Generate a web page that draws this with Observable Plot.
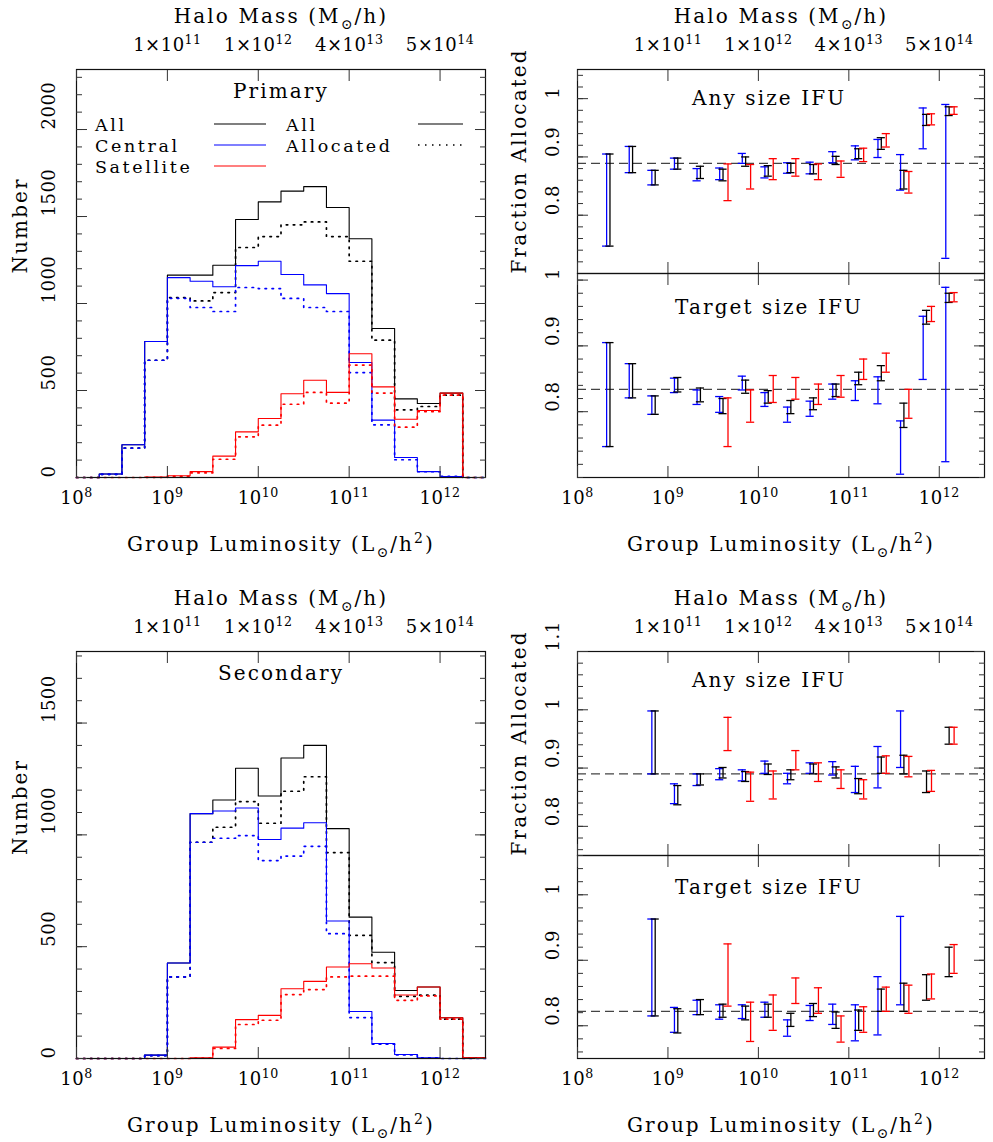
<!DOCTYPE html>
<html>
<head>
<meta charset="utf-8">
<script src="https://cdn.jsdelivr.net/npm/d3@7"></script>
<script src="https://cdn.jsdelivr.net/npm/@observablehq/plot@0.6"></script>
<style>
  html, body { margin: 0; padding: 0; background: #fff; }
  #root { position: relative; width: 993px; height: 1142px; overflow: hidden; background: #fff; font-family: "DejaVu Serif", serif; }
  #root svg { position: absolute; overflow: visible; background: transparent; max-width: none; }
  #root text { letter-spacing: 0.5px; }
  #root text.big { letter-spacing: 2.1px; }
</style>
</head>
<body>
<div id="root"></div>
<script>
// ================= DATA =================
// log10 group-luminosity bin edges (0.25 dex)
const binEdges = [8, 8.25, 8.5, 8.75, 9, 9.25, 9.5, 9.75, 10, 10.25, 10.5, 10.75, 11, 11.25, 11.5, 11.75, 12, 12.25, 12.5];

// Primary sample histograms (counts per bin)
const primaryAll                = [0, 20, 188, 782, 1163, 1163, 1220, 1483, 1584, 1646, 1672, 1552, 1372, 856, 452, 425, 485, 0];
const primaryCentral            = [0, 20, 188, 782, 1149, 1128, 1096, 1218, 1243, 1167, 1107, 1057, 661, 330, 115, 34, 6, 0];
const primarySatellite          = [0, 0, 0, 2, 10, 34, 123, 262, 339, 481, 559, 489, 711, 521, 335, 385, 485, 0];
const primaryAllAllocated       = [0, 18, 169, 674, 1034, 1015, 1063, 1322, 1385, 1452, 1469, 1385, 1243, 789, 389, 408, 473, 0];
const primaryCentralAllocated   = [0, 18, 169, 674, 1030, 977, 954, 1092, 1086, 1029, 977, 954, 603, 303, 102, 33, 6, 0];
const primarySatelliteAllocated = [0, 0, 0, 1, 6, 27, 105, 234, 301, 421, 489, 427, 646, 485, 289, 379, 473, 0];

// Secondary sample histograms
const secondaryAll                = [0, 0, 0, 15, 427, 1095, 1156, 1298, 1174, 1344, 1400, 1028, 632, 475, 304, 320, 182, 3];
const secondaryCentral            = [0, 0, 0, 15, 427, 1095, 1107, 1120, 979, 1030, 1054, 615, 210, 67, 18, 3, 0, 0];
const secondarySatellite          = [0, 0, 0, 0, 0, 3, 51, 174, 193, 312, 345, 409, 424, 405, 284, 320, 182, 3];
const secondaryAllAllocated       = [0, 0, 0, 13, 365, 967, 1034, 1149, 1052, 1195, 1260, 921, 551, 429, 278, 283, 176, 3];
const secondaryCentralAllocated   = [0, 0, 0, 13, 365, 967, 985, 997, 885, 905, 949, 558, 183, 64, 16, 3, 0, 0];
const secondarySatelliteAllocated = [0, 0, 0, 0, 0, 2, 45, 152, 171, 286, 308, 365, 368, 368, 260, 280, 176, 3];

// Fraction-allocated error bars: bin centres 8.375 ... 12.125
const errCenters = [8.375, 8.625, 8.875, 9.125, 9.375, 9.625, 9.875, 10.125, 10.375, 10.625, 10.875, 11.125, 11.375, 11.625, 11.875, 12.125];
const seriesShift = {Central: -0.053, All: -0.016, Satellite: 0.039};

// Primary, any size IFU
const anyPrimCentralLo = [0.747, 0.873, 0.852, 0.879, 0.859, 0.861, 0.889, 0.864, 0.872, 0.871, 0.890, 0.895, 0.899, 0.843, 0.914, 0.726];
const anyPrimCentralHi = [0.905, 0.918, 0.877, 0.898, 0.880, 0.881, 0.906, 0.883, 0.890, 0.891, 0.909, 0.919, 0.930, 0.904, 0.984, 0.990];
const anyPrimAllLo     = [0.747, 0.873, 0.852, 0.879, 0.863, 0.859, 0.884, 0.867, 0.873, 0.871, 0.887, 0.897, 0.913, 0.845, 0.954, 0.971];
const anyPrimAllHi     = [0.905, 0.918, 0.877, 0.898, 0.884, 0.879, 0.900, 0.885, 0.889, 0.887, 0.901, 0.914, 0.933, 0.877, 0.973, 0.986];
const anyPrimSatLo     = [null, null, null, null, null, 0.825, 0.845, 0.861, 0.867, 0.861, 0.865, 0.892, 0.917, 0.838, 0.955, 0.973];
const anyPrimSatHi     = [null, null, null, null, null, 0.888, 0.887, 0.897, 0.897, 0.888, 0.893, 0.915, 0.940, 0.875, 0.974, 0.986];
const anyPrimMean = 0.889;

// Primary, target size IFU
const tgtPrimCentralLo = [0.747, 0.821, 0.796, 0.829, 0.811, 0.799, 0.833, 0.808, 0.784, 0.793, 0.819, 0.817, 0.812, 0.705, 0.849, 0.724];
const tgtPrimCentralHi = [0.905, 0.873, 0.824, 0.851, 0.833, 0.823, 0.854, 0.829, 0.807, 0.816, 0.842, 0.847, 0.853, 0.786, 0.945, 0.989];
const tgtPrimAllLo     = [0.747, 0.821, 0.796, 0.830, 0.815, 0.797, 0.828, 0.813, 0.797, 0.803, 0.823, 0.841, 0.847, 0.776, 0.933, 0.966];
const tgtPrimAllHi     = [0.905, 0.873, 0.824, 0.852, 0.836, 0.820, 0.848, 0.832, 0.817, 0.821, 0.842, 0.860, 0.870, 0.813, 0.954, 0.980];
const tgtPrimSatLo     = [null, null, null, null, null, 0.747, 0.784, 0.814, 0.819, 0.811, 0.822, 0.849, 0.860, 0.790, 0.937, 0.967];
const tgtPrimSatHi     = [null, null, null, null, null, 0.821, 0.833, 0.855, 0.852, 0.842, 0.855, 0.880, 0.889, 0.834, 0.960, 0.981];
const tgtPrimMean = 0.834;

// Secondary, any size IFU
const anySecCentralLo = [null, null, 0.890, 0.839, 0.870, 0.880, 0.878, 0.891, 0.873, 0.891, 0.888, 0.858, 0.866, 0.901, null, null];
const anySecCentralHi = [null, null, 0.998, 0.873, 0.890, 0.899, 0.897, 0.912, 0.891, 0.909, 0.911, 0.903, 0.937, 0.998, null, null];
const anySecAllLo     = [null, null, 0.890, 0.837, 0.871, 0.883, 0.877, 0.889, 0.880, 0.890, 0.883, 0.856, 0.891, 0.890, 0.858, 0.941];
const anySecAllHi     = [null, null, 0.998, 0.870, 0.890, 0.901, 0.894, 0.907, 0.897, 0.907, 0.902, 0.882, 0.919, 0.922, 0.895, 0.970];
const anySecSatLo     = [null, null, null, null, null, 0.930, 0.843, 0.847, 0.897, 0.877, 0.865, 0.847, 0.891, 0.885, 0.860, 0.941];
const anySecSatHi     = [null, null, null, null, null, 0.987, 0.893, 0.895, 0.930, 0.909, 0.897, 0.880, 0.921, 0.920, 0.896, 0.970];
const anySecMean = 0.890;

// Secondary, target size IFU
const tgtSecCentralLo = [null, null, 0.815, 0.790, 0.817, 0.810, 0.811, 0.813, 0.784, 0.808, 0.802, 0.777, 0.786, 0.832, null, null];
const tgtSecCentralHi = [null, null, 0.963, 0.828, 0.839, 0.832, 0.832, 0.836, 0.809, 0.831, 0.833, 0.832, 0.875, 0.967, null, null];
const tgtSecAllLo     = [null, null, 0.815, 0.789, 0.817, 0.813, 0.809, 0.813, 0.799, 0.814, 0.796, 0.793, 0.822, 0.822, 0.839, 0.875];
const tgtSecAllHi     = [null, null, 0.963, 0.826, 0.840, 0.833, 0.830, 0.833, 0.819, 0.834, 0.821, 0.824, 0.856, 0.865, 0.878, 0.920];
const tgtSecSatLo     = [null, null, null, null, null, 0.830, 0.776, 0.793, 0.834, 0.819, 0.775, 0.790, 0.822, 0.819, 0.841, 0.880];
const tgtSecSatHi     = [null, null, null, null, null, 0.925, 0.836, 0.847, 0.873, 0.858, 0.815, 0.829, 0.859, 0.862, 0.879, 0.924];
const tgtSecMean = 0.822;

// Tick values and labels
const lumTicks = [8, 9, 10, 11, 12];
const lumTickLabels = ["10^{8}", "10^{9}", "10^{10}", "10^{11}", "10^{12}"];
const massTicks = [9, 10, 11, 12];
const massTickLabels = ["1×10^{11}", "1×10^{12}", "4×10^{13}", "5×10^{14}"];
const primaryCountTicks = [0, 500, 1000, 1500, 2000];
const secondaryCountTicks = [0, 500, 1000, 1500];
const fracTicks = [0.8, 0.9, 1];
const fracTickLabels = ["0.8", "0.9", "1"];
const fracTicksWide = [0.8, 0.9, 1, 1.1];
const fracTickLabelsWide = ["0.8", "0.9", "1", "1.1"];

// ================= DRAWING =================
const root = document.getElementById("root");
const FONT = "DejaVu Serif";
const COLORS = {All: "#000000", Central: "#0000ff", Satellite: "#ff0000"};
const TICK = {stroke: "#333", strokeWidth: 1};
const CAP = 0.045;
const DOTS = {strokeWidth: 1.7, strokeDasharray: "1.5,5.5"};

function richText(svg) {
  svg.querySelectorAll("text").forEach(t => {
    const fsAttr = parseFloat(getComputedStyle(t).fontSize) || 18;
    if (fsAttr >= 19.5) t.classList.add("big");
    const s = t.textContent;
    if (!/[\^_]\{/.test(s)) return;
    const fs = fsAttr;
    t.textContent = "";
    const re = /(\^|_)\{([^}]*)\}/g;
    let last = 0, m, pending = 0;
    const add = (str, dy, small) => {
      const ts = document.createElementNS("http://www.w3.org/2000/svg", "tspan");
      ts.textContent = str;
      if (dy) ts.setAttribute("dy", dy);
      if (small) ts.setAttribute("font-size", fs * 0.7);
      t.appendChild(ts);
    };
    while ((m = re.exec(s))) {
      if (m.index > last) { add(s.slice(last, m.index), pending); pending = 0; }
      const shift = m[1] === "^" ? -0.42 * fs : 0.3 * fs;
      add(m[2], shift + pending, true);
      pending = -shift;
      last = re.lastIndex;
    }
    if (last < s.length) add(s.slice(last), pending);
  });
}

function mount(o, left, top) {
  const svg = Plot.plot({
    width: o.width, height: o.height,
    marginTop: o.mt, marginBottom: o.mb, marginLeft: o.ml, marginRight: o.mr,
    x: {domain: [8, 12.5], axis: null},
    y: {domain: o.yDomain, axis: null},
    style: {fontFamily: FONT, fontSize: "18px", background: "transparent", overflow: "visible", color: "#000"},
    marks: o.marks
  });
  svg.style.position = "absolute";
  svg.style.left = left + "px";
  svg.style.top = top + "px";
  root.appendChild(svg);
  richText(svg);
  return svg;
}

function tickMarks(yMajor, yMinor) {
  const base = {label: null, tickFormat: () => "", ...TICK};
  return [
    Plot.axisY({...base, anchor: "left", ticks: yMajor, tickSize: 11, dx: 11}),
    Plot.axisY({...base, anchor: "left", ticks: yMinor, tickSize: 6, dx: 6}),
    Plot.axisY({...base, anchor: "right", ticks: yMajor, tickSize: 11, dx: -11}),
    Plot.axisY({...base, anchor: "right", ticks: yMinor, tickSize: 6, dx: -6}),
    Plot.axisX({...base, anchor: "bottom", ticks: lumTicks, tickSize: 11, dy: -11}),
    Plot.axisX({...base, anchor: "top", ticks: lumTicks, tickSize: 11, dy: 11})
  ];
}

function stepData(counts) {
  return binEdges.map((e, i) => ({x: e, y: counts[Math.min(i, counts.length - 1)]}));
}
function histLine(counts, color, dotted) {
  return Plot.line(stepData(counts), {
    x: "x", y: "y", curve: "step-after", stroke: color,
    ...(dotted ? DOTS : {strokeWidth: 1.1})
  });
}

function errMarks(lo, hi, series) {
  const d = errCenters.map((c, i) => ({x: c + seriesShift[series], lo: lo[i], hi: hi[i]})).filter(v => v.lo != null);
  const st = {stroke: COLORS[series], strokeWidth: 1.3};
  return [
    Plot.ruleX(d, {x: "x", y1: "lo", y2: "hi", ...st}),
    Plot.ruleY(d, {y: "lo", x1: v => v.x - CAP, x2: v => v.x + CAP, ...st}),
    Plot.ruleY(d, {y: "hi", x1: v => v.x - CAP, x2: v => v.x + CAP, ...st})
  ];
}

const T20 = {fontSize: 20, lineAnchor: "middle"};
const T18 = {fontSize: 18, lineAnchor: "middle"};
const rangeBy = (a, b, s) => d3.range(a, b + 1).map(k => k / s);

// ---------- Histogram panels ----------
function histPanel({counts, yDomain, yTicks, title, top, mt, mb, frameH}) {
  return mount({
    width: 496, height: mt + mb + frameH, mt, mb, ml: 76, mr: 11, yDomain,
    marks: [
      histLine(counts.all, COLORS.All, false),
      histLine(counts.allAlloc, COLORS.All, true),
      histLine(counts.central, COLORS.Central, false),
      histLine(counts.centralAlloc, COLORS.Central, true),
      histLine(counts.sat, COLORS.Satellite, false),
      histLine(counts.satAlloc, COLORS.Satellite, true),
      Plot.frame({stroke: "#111", strokeWidth: 1.2}),
      ...tickMarks(yTicks, d3.range(0, yDomain[1], 100)),
      Plot.text(yTicks, {y: d => d, text: d => String(d), frameAnchor: "left", dx: -27, rotate: -90, ...T18}),
      Plot.text(lumTicks, {x: d => d, text: (d, i) => lumTickLabels[i], frameAnchor: "bottom", dy: 21, ...T18}),
      Plot.text(massTicks, {x: d => d, text: (d, i) => massTickLabels[i], frameAnchor: "top", dy: -24, ...T18}),
      Plot.text(["Number"], {text: d => d, frameAnchor: "left", dx: -56, rotate: -90, ...T20}),
      Plot.text(["Halo Mass (M_{⊙}/h)"], {text: d => d, frameAnchor: "top", dy: -53, ...T20}),
      Plot.text(["Group Luminosity (L_{⊙}/h^{2})"], {text: d => d, frameAnchor: "bottom", dy: 67, ...T20}),
      Plot.text([title], {text: d => d, frameAnchor: "top", dy: 22, ...T20})
    ]
  }, 0, top);
}

histPanel({
  counts: {all: primaryAll, allAlloc: primaryAllAllocated, central: primaryCentral, centralAlloc: primaryCentralAllocated, sat: primarySatellite, satAlloc: primarySatelliteAllocated},
  yDomain: [0, 2345], yTicks: primaryCountTicks, title: "Primary", top: 0, mt: 69, mb: 83, frameH: 408
});
histPanel({
  counts: {all: secondaryAll, allAlloc: secondaryAllAllocated, central: secondaryCentral, centralAlloc: secondaryCentralAllocated, sat: secondarySatellite, satAlloc: secondarySatelliteAllocated},
  yDomain: [0, 1820], yTicks: secondaryCountTicks, title: "Secondary", top: 580, mt: 71, mb: 84, frameH: 407
});

// ---------- Fraction allocated panels ----------
function fracPanel({upper, yDomain, majors, majorLabels, minors, mean, title, titleDy, bars, top, height, mt, mb}) {
  const marks = [
    Plot.ruleY([mean], {stroke: "#444", strokeWidth: 1.2, strokeDasharray: "9,5"}),
    ...errMarks(bars.cLo, bars.cHi, "Central"),
    ...errMarks(bars.aLo, bars.aHi, "All"),
    ...errMarks(bars.sLo, bars.sHi, "Satellite"),
    Plot.frame({stroke: "#111", strokeWidth: 1.2}),
    ...tickMarks(majors, minors),
    Plot.text(majors, {y: d => d, text: (d, i) => majorLabels[i], frameAnchor: "left", dx: -24, rotate: -90, ...T18}),
    Plot.text([title], {text: d => d, frameAnchor: "top", dy: titleDy, dx: -12, ...T20})
  ];
  if (upper) {
    marks.push(
      Plot.text(massTicks, {x: d => d, text: (d, i) => massTickLabels[i], frameAnchor: "top", dy: -24, ...T18}),
      Plot.text(["Halo Mass (M_{⊙}/h)"], {text: d => d, frameAnchor: "top", dy: -53, ...T20}),
      Plot.text(["Fraction Allocated"], {text: d => d, frameAnchor: "bottom-left", dx: -58, rotate: -90, ...T20})
    );
  } else {
    marks.push(
      Plot.text(lumTicks, {x: d => d, text: (d, i) => lumTickLabels[i], frameAnchor: "bottom", dy: 21, ...T18}),
      Plot.text(["Group Luminosity (L_{⊙}/h^{2})"], {text: d => d, frameAnchor: "bottom", dy: 67, ...T20})
    );
  }
  return mount({width: 493, height, mt, mb, ml: 77, mr: 9, yDomain, marks}, 500, top);
}

fracPanel({upper: true, yDomain: [0.7, 1.05], majors: fracTicks, majorLabels: fracTickLabels, minors: rangeBy(35, 52, 50),
  mean: anyPrimMean, title: "Any size IFU", titleDy: 29, top: 0, height: 273, mt: 69, mb: 0,
  bars: {cLo: anyPrimCentralLo, cHi: anyPrimCentralHi, aLo: anyPrimAllLo, aHi: anyPrimAllHi, sLo: anyPrimSatLo, sHi: anyPrimSatHi}});
fracPanel({upper: false, yDomain: [0.7, 1.01], majors: fracTicks, majorLabels: fracTickLabels, minors: rangeBy(35, 50, 50),
  mean: tgtPrimMean, title: "Target size IFU", titleDy: 34, top: 273, height: 287, mt: 0, mb: 83,
  bars: {cLo: tgtPrimCentralLo, cHi: tgtPrimCentralHi, aLo: tgtPrimAllLo, aHi: tgtPrimAllHi, sLo: tgtPrimSatLo, sHi: tgtPrimSatHi}});
fracPanel({upper: true, yDomain: [0.75, 1.1], majors: fracTicksWide, majorLabels: fracTickLabelsWide, minors: rangeBy(38, 55, 50),
  mean: anySecMean, title: "Any size IFU", titleDy: 29, top: 580, height: 275, mt: 71, mb: 0,
  bars: {cLo: anySecCentralLo, cHi: anySecCentralHi, aLo: anySecAllLo, aHi: anySecAllHi, sLo: anySecSatLo, sHi: anySecSatHi}});
fracPanel({upper: false, yDomain: [0.75, 1.06], majors: fracTicks, majorLabels: fracTickLabels, minors: rangeBy(38, 53, 50),
  mean: tgtSecMean, title: "Target size IFU", titleDy: 32, top: 855, height: 287, mt: 0, mb: 84,
  bars: {cLo: tgtSecCentralLo, cHi: tgtSecCentralHi, aLo: tgtSecAllLo, aHi: tgtSecAllHi, sLo: tgtSecSatLo, sHi: tgtSecSatHi}});

// ---------- Legend (Primary panel) ----------
const legendTypes = [["All", COLORS.All], ["Central", COLORS.Central], ["Satellite", COLORS.Satellite]];
const legendStyles = [["All", false], ["Allocated", true]];
const ROW = 21;
const leg = d3.select(root).append("svg")
  .attr("width", 496).attr("height", 200)
  .style("left", "0px").style("top", "0px")
  .attr("font-family", FONT).attr("font-size", 17.5);
legendTypes.forEach(([lab, col], i) => {
  leg.append("text").attr("x", 95).attr("y", 130.5 + i * ROW).style("letter-spacing", "2.6px").text(lab);
  leg.append("line").attr("x1", 214).attr("x2", 266)
    .attr("y1", 124 + i * ROW).attr("y2", 124 + i * ROW)
    .attr("stroke", col).attr("stroke-width", 1.1);
});
legendStyles.forEach(([lab, dotted], i) => {
  leg.append("text").attr("x", 286).attr("y", 130.5 + i * ROW).style("letter-spacing", "2.6px").text(lab);
  const ln = leg.append("line").attr("x1", 418).attr("x2", 463)
    .attr("y1", 124 + i * ROW).attr("y2", 124 + i * ROW)
    .attr("stroke", "#000").attr("stroke-width", dotted ? DOTS.strokeWidth : 1.1);
  if (dotted) ln.attr("stroke-dasharray", DOTS.strokeDasharray);
});
</script>
</body>
</html>
